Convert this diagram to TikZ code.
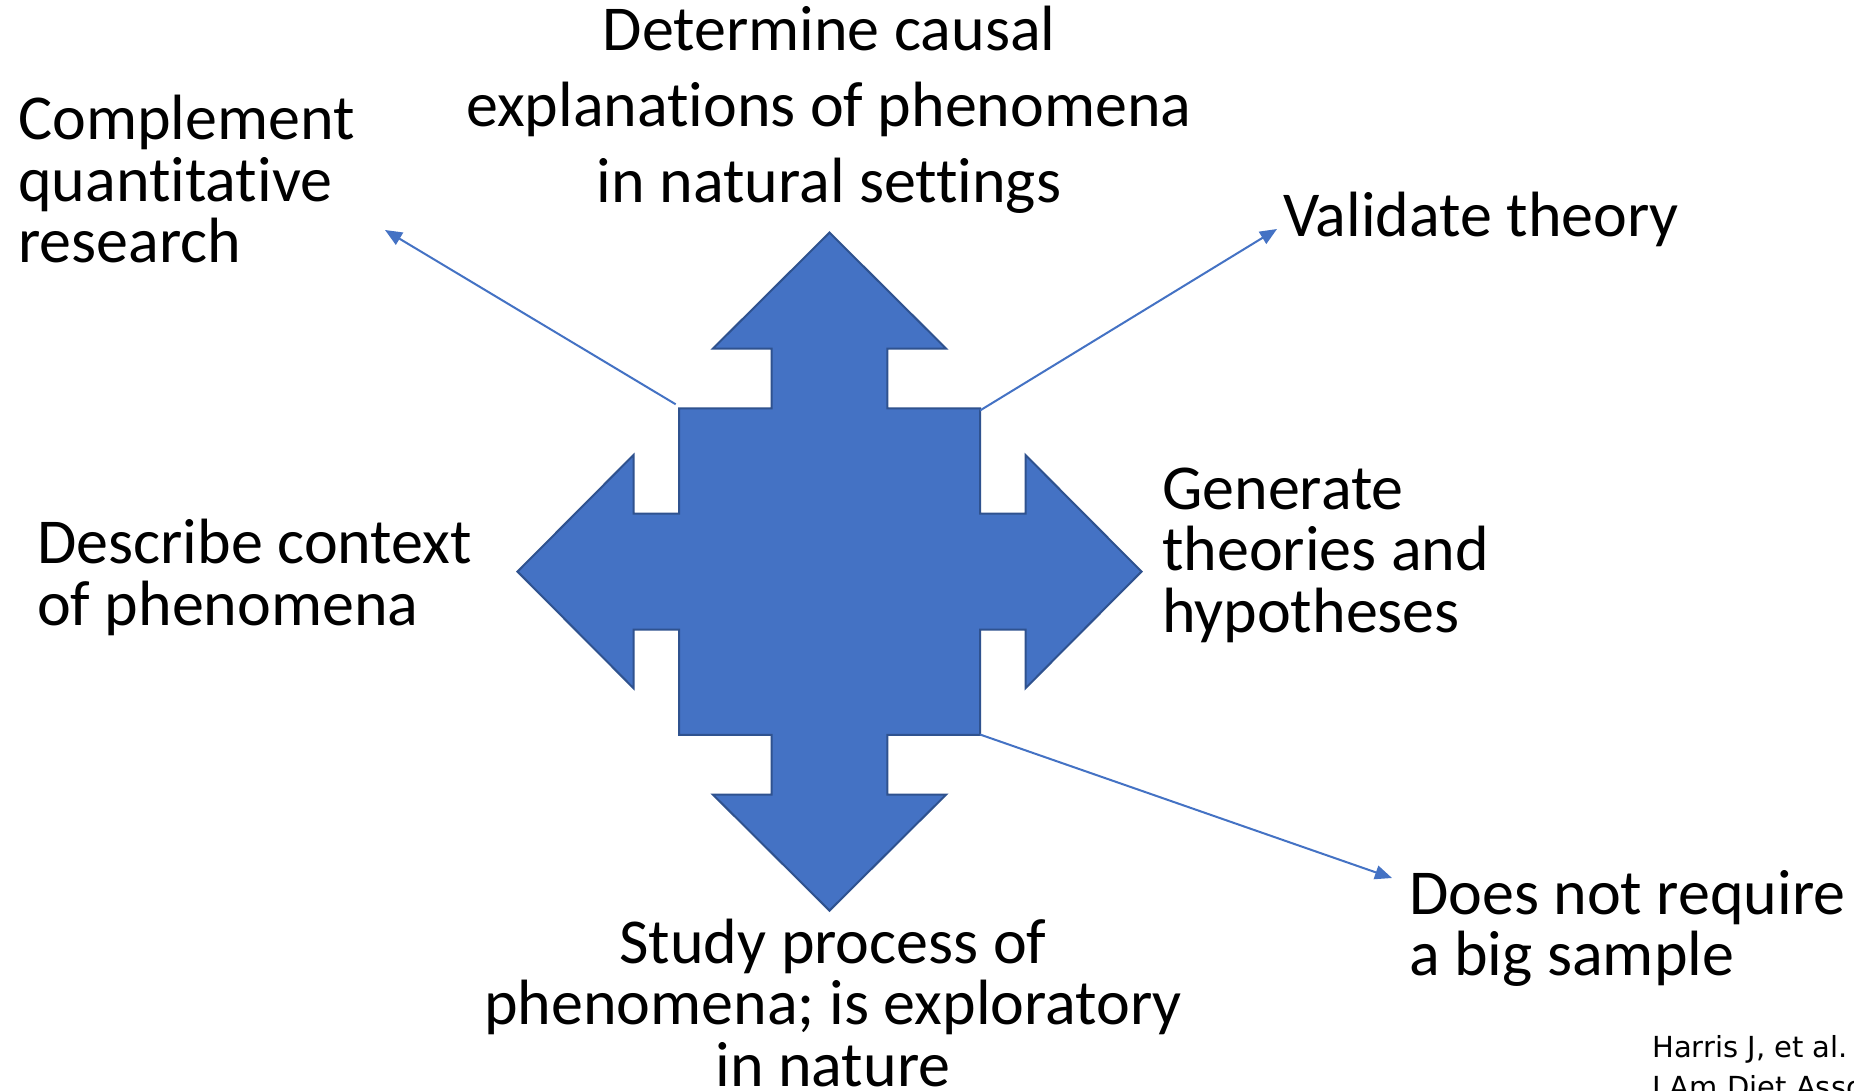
\documentclass[tikz,border=0pt]{standalone}
\usepackage{fontspec}
\setmainfont{Carlito}[Ligatures=NoCommon]
\newfontfamily\citefont{DejaVu Sans}
\usetikzlibrary{arrows.meta,calc}
\definecolor{shapefill}{HTML}{4472C4}
\definecolor{shapeline}{HTML}{2F528F}
\definecolor{connline}{HTML}{4472C4}
\begin{document}
\begin{tikzpicture}[x=1pt,y=-1pt,
  lbl/.style={inner sep=0pt, font=\fontsize{64}{61.5}\selectfont, text=black},
  lblL/.style={lbl, align=left, anchor=base west},
  lblC/.style={lbl, align=center, anchor=base},
  conn/.style={draw=connline, line width=2pt, -{Triangle[length=17pt,width=14pt]}},
  cite/.style={inner sep=0pt, font=\citefont\fontsize{29}{40}\selectfont, align=left, anchor=base west}
]
\useasboundingbox (0,0) rectangle (1854,1091);
\clip (0,0) rectangle (1854,1091);
\fill[white] (0,0) rectangle (1854,1091);

% quad arrow
\coordinate (c) at (829.5,571.6);
\draw[fill=shapefill, draw=shapeline, line width=2pt, line join=miter]
  ($(c)+(0,-339)$) -- ++(116.6,116) -- ++(-58.8,0) -- ++(0,59.7) -- ++(92.7,0)
  -- ++(0,105.3) -- ++(45.5,0) -- ++(0,-58.6) -- ++(116,116.6) -- ++(-116,116.6)
  -- ++(0,-58.6) -- ++(-45.5,0) -- ++(0,105.3) -- ++(-92.7,0) -- ++(0,59.7)
  -- ++(58.8,0) -- ++(-116.6,116) -- ++(-116.6,-116) -- ++(58.8,0) -- ++(0,-59.7)
  -- ++(-92.7,0) -- ++(0,-105.3) -- ++(-45.5,0) -- ++(0,58.6) -- ++(-116,-116.6)
  -- ++(116,-116.6) -- ++(0,58.6) -- ++(45.5,0) -- ++(0,-105.3) -- ++(92.7,0)
  -- ++(0,-59.7) -- ++(-58.8,0) -- cycle;

\coordinate (tl) at (675.7,404.3);
\coordinate (tr) at (980,410.5);
\coordinate (br) at (980,734.5);
\coordinate (e1) at (385,230);
\coordinate (e2) at (1277,229);
\coordinate (e3) at (1392,878);

\draw[conn] (tl) -- (e1);
\draw[conn] (tr) -- (e2);
\draw[conn] (br) -- (e3);

\node[lblL] (compl) at (18,262.5) {Complement\\quantitative\\research};
\node[lblC, font=\fontsize{64}{76}\selectfont] (determ) at (829,202.7) {Determine causal\\explanations of phenomena\\in natural settings};
\node[lblL] (valid) at (1283,236.5) {Validate theory};
\node[lblL] (descr) at (37,625) {Describe context\\of phenomena};
\node[lblL] (gener) at (1162,632) {Generate\\theories and\\hypotheses};
\node[lblC] (study) at (833,1086) {Study process of\\phenomena; is exploratory\\in nature};
\node[lblL] (doesnot) at (1409,975.5) {Does not require\\a big sample};
\node[cite] (harris) at (1652,1097) {Harris J, et al.\\J Am Diet Assoc.};
\end{tikzpicture}
\end{document}
